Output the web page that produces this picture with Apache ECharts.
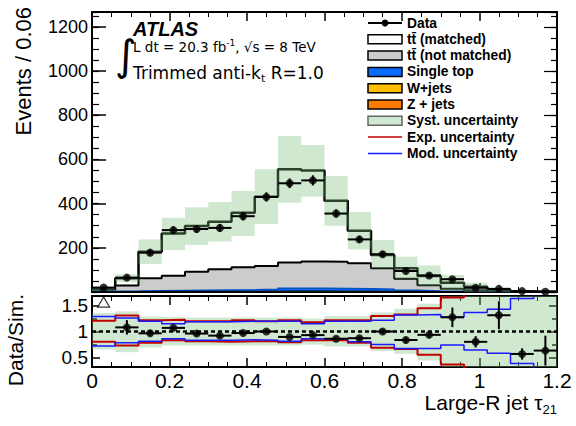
<!DOCTYPE html>
<html>
<head>
<meta charset="utf-8">
<script src="https://cdn.jsdelivr.net/npm/echarts@6/dist/echarts.min.js"></script>
<style>
  html, body { margin: 0; padding: 0; background: #fff; }
  #chart { width: 576px; height: 426px; }
</style>
</head>
<body>
<div id="chart"></div>
<script>
// bins of large-R jet tau21
const binEdges = [0, 0.06, 0.12, 0.18, 0.24, 0.3, 0.36, 0.42, 0.48, 0.54, 0.6,
  0.66, 0.72, 0.78, 0.84, 0.9, 0.96, 1.02, 1.08, 1.14, 1.2];

// main panel, events per bin
const dataEvents = [20, 65, 178, 280, 285, 290, 343, 430, 492, 505, 355, 238, 171, 95, 75, 58, 19, 14, 4, 1];
const dataErr = [5, 8, 13, 17, 17, 17, 19, 21, 22, 23, 19, 15, 13, 10, 9, 8, 4, 4, 2, 1];
const zJets = [0.5, 1, 1, 1, 1, 1, 1, 1, 1.5, 1.5, 1, 1, 1, 1, 0.5, 0.5, 0.3, 0.2, 0.1, 0.1];
const wJets = [1, 1, 2, 2, 2, 2, 2, 3, 3, 3, 3, 3, 2, 2, 1, 1, 0.5, 0.3, 0.2, 0.1];
const singleTop = [1.5, 2, 3, 4, 5, 6, 7, 8, 12, 12, 12, 11, 9, 5, 3.5, 1.5, 1.2, 0.5, 0.5, 0.2];
const ttNotMatched = [7, 25, 56, 67, 84, 94, 102, 106, 117, 121, 121, 115, 95, 52, 25, 12, 6, 4, 1.2, 0.6];
const ttMatched = [1, 33, 120, 191, 207, 215, 247, 313, 422, 412, 276, 147, 60, 48, 42, 27, 16, 4, 0.2, 0];
const systLo = [5, 45, 127, 190, 213, 228, 253, 308, 404, 431, 300, 193, 107, 60, 28, 9, 0, 0, 0, 0];
const systHi = [20, 80, 238, 336, 383, 407, 457, 555, 706, 665, 525, 362, 235, 160, 120, 77, 42, 20, 8, 3];

// ratio panel, data / simulation
const ratio = [null, 1.08, 0.965, 1.07, 0.96, 0.92, 0.97, 1.0, 0.895, 0.93, 0.86, 0.87, 1.0, 0.835, 0.935, 1.275, 0.8, 1.315, 0.565, 0.63];
const ratioErr = [0, 0.14, 0.05, 0.04, 0.04, 0.04, 0.04, 0.04, 0.03, 0.03, 0.04, 0.04, 0.05, 0.06, 0.06, 0.19, 0.11, 0.27, 0.11, 0.29];
const ratioOverflow = [[0.03, 1.57]];
const expUp = [1.21, 1.31, 1.22, 1.23, 1.2, 1.2, 1.22, 1.2, 1.22, 1.18, 1.22, 1.22, 1.3, 1.33, 1.45, 1.66, 1.9, 1.9, 1.9, 1.9];
const expDn = [0.8, 0.73, 0.78, 0.83, 0.81, 0.8, 0.81, 0.81, 0.79, 0.83, 0.83, 0.78, 0.685, 0.66, 0.55, 0.36, 0.1, 0.1, 0.1, 0.1];
const modUp = [1.29, 1.26, 1.2, 1.15, 1.19, 1.19, 1.2, 1.2, 1.2, 1.15, 1.2, 1.2, 1.22, 1.32, 1.33, 1.28, 1.37, 1.43, 1.64, 1.9];
const modDn = [0.72, 0.78, 0.81, 0.86, 0.83, 0.83, 0.84, 0.83, 0.81, 0.86, 0.86, 0.8, 0.75, 0.67, 0.67, 0.74, 0.64, 0.58, 0.38, 0.1];
const systUp = [1.36, 1.39, 1.29, 1.28, 1.27, 1.27, 1.27, 1.27, 1.27, 1.25, 1.3, 1.3, 1.37, 1.44, 1.54, 1.9, 1.9, 1.9, 1.9, 1.9];
const systDn = [0.65, 0.6, 0.69, 0.73, 0.73, 0.73, 0.73, 0.73, 0.73, 0.745, 0.71, 0.71, 0.62, 0.57, 0.44, 0.1, 0.1, 0.1, 0.1, 0.1];

// ticks / labels
const xTicks = { min: 0, max: 1.2, interval: 0.2 };
const yMainMax = 1267;
const yMainLabels = [200, 400, 600, 800, 1000, 1200];
const yMainTicks = [0, 200, 400, 600, 800, 1000, 1200];
const yRatioRange = [0.312, 1.688];
const yRatioLabels = [0.5, 1, 1.5];
const yRatioMinor = [0.75, 1.25];

const legendNames = ["Data", "tt\u0304 (matched)", "tt\u0304 (not matched)", "Single top", "W+jets",
  "Z + jets", "Syst. uncertainty", "Exp. uncertainty", "Mod. uncertainty"];

const colors = {
  gray: "#cccccc",
  single: "#0a6cff",
  wjets: "#ffbf00",
  zjets: "#ff7a00",
  band: "rgba(120,190,120,0.35)",
  bandSolid: "#d0e8d0",
  red: "#c00000",
  blue: "#1a1aff",
};
const font = "'Liberation Sans', Arial, sans-serif";
const wideFont = "'DejaVu Sans', sans-serif";

const chart = echarts.init(document.getElementById("chart"), null, { renderer: "svg" });

const stepData = (vals) => binEdges.map((e, i) => [e, vals[Math.min(i, vals.length - 1)]]);
const boxData = (lo, hi) => lo.map((v, i) => [binEdges[i], binEdges[i + 1], v, hi[i]]);
const errData = (vals, errs) =>
  vals.map((v, i) => [binEdges[i], binEdges[i + 1], v, errs[i]]).filter((d) => d[2] != null);
const pointData = (vals) =>
  vals.map((v, i) => [(binEdges[i] + binEdges[i + 1]) / 2, v]).filter((d) => d[1] != null);

// stack from the bottom: Z, W, single top, tt not matched, tt matched
const stackOrder = [zJets, wJets, singleTop, ttNotMatched, ttMatched];
const cumulative = [];
stackOrder.forEach((arr, k) => {
  cumulative.push(arr.map((v, i) => v + (k ? cumulative[k - 1][i] : 0)));
});

const boxItem = (fill) => (params, api) => {
  const a = api.coord([api.value(0), api.value(2)]);
  const b = api.coord([api.value(1), api.value(3)]);
  const cs = params.coordSys;
  const shape = echarts.graphic.clipRectByRect(
    { x: a[0], y: b[1], width: b[0] - a[0], height: a[1] - b[1] },
    { x: cs.x, y: cs.y, width: cs.width, height: cs.height }
  );
  return shape && { type: "rect", shape, style: { fill } };
};

const errItem = (params, api) => {
  const x0 = api.value(0), x1 = api.value(1), y = api.value(2), e = api.value(3);
  const l = api.coord([x0, y]), r = api.coord([x1, y]);
  const t = api.coord([(x0 + x1) / 2, y + e]), b = api.coord([(x0 + x1) / 2, y - e]);
  const st = { stroke: "#000", lineWidth: 2 };
  return {
    type: "group",
    children: [
      { type: "line", shape: { x1: l[0], y1: l[1], x2: r[0], y2: r[1] }, style: st },
      { type: "line", shape: { x1: t[0], y1: t[1], x2: b[0], y2: b[1] }, style: st },
    ],
  };
};

// filled step histogram down to zero, drawn largest first
const histSeries = (name, vals, fill, line, width, z) => ({
  name, type: "line", step: "end", data: stepData(vals),
  symbol: "none", xAxisIndex: 0, yAxisIndex: 0, z,
  lineStyle: { color: line, width }, areaStyle: { color: fill, opacity: 1, origin: "start" },
});

const ratioLine = (name, vals, color, width) => ({
  name, type: "line", step: "end", data: stepData(vals), symbol: "none",
  xAxisIndex: 2, yAxisIndex: 4, z: 4, clip: true,
  lineStyle: { color, width },
});

const xAxisBase = (gridIndex, position, showLabel, major, minor) => ({
  type: "value", gridIndex, position, min: xTicks.min, max: xTicks.max, interval: xTicks.interval,
  axisLine: { show: true, onZero: false, lineStyle: { color: "#000", width: 2 } },
  axisTick: { show: true, inside: true, length: major, lineStyle: { color: "#000", width: 1.5 } },
  minorTick: { show: true, splitNumber: 4, length: minor, lineStyle: { color: "#000", width: 1 } },
  axisLabel: { show: showLabel, color: "#000", fontSize: 21, fontFamily: font, margin: 3 },
  splitLine: { show: false },
});

const yMain = (position, step, len, labels) => ({
  type: "value", gridIndex: 0, position, min: 0, max: yMainMax, interval: step,
  axisLine: { show: true, onZero: false, lineStyle: { color: "#000", width: 2 } },
  axisTick: labels
    ? { show: true, inside: true, length: len, customValues: yMainTicks, lineStyle: { color: "#000", width: 1.5 } }
    : { show: true, inside: true, length: len, lineStyle: { color: "#000", width: 1.2 } },
  axisLabel: labels
    ? { show: true, customValues: yMainLabels, formatter: (v) => String(v), color: "#000", fontSize: 18, fontFamily: font, margin: 4 }
    : { show: false },
  splitLine: { show: false },
});

const yRatio = (position, ticks, len, labels) => ({
  type: "value", gridIndex: 1, position, min: yRatioRange[0], max: yRatioRange[1],
  axisLine: { show: true, onZero: false, lineStyle: { color: "#000", width: 2 } },
  axisTick: { show: true, inside: true, length: len, customValues: ticks, lineStyle: { color: "#000", width: 1.5 } },
  axisLabel: labels
    ? { show: true, customValues: yRatioLabels, formatter: (v) => String(v), color: "#000", fontSize: 19, fontFamily: font, margin: 4 }
    : { show: false },
  splitLine: { show: false },
});

// legend drawn as graphics, top right
const legendX = 368, legendY = 23, legendStep = 16.3;
const legendStyles = [
  { kind: "data" },
  { kind: "box", fill: "#fff", stroke: "#000" },
  { kind: "box", fill: colors.gray, stroke: "#000" },
  { kind: "box", fill: colors.single, stroke: "#000" },
  { kind: "box", fill: colors.wjets, stroke: "#000" },
  { kind: "box", fill: colors.zjets, stroke: "#000" },
  { kind: "box", fill: colors.bandSolid, stroke: "#666" },
  { kind: "line", color: colors.red },
  { kind: "line", color: colors.blue },
];
const legendGraphics = [];
legendNames.forEach((name, i) => {
  const y = legendY + i * legendStep;
  const s = legendStyles[i];
  if (s.kind === "data") {
    legendGraphics.push({ type: "line", shape: { x1: legendX, y1: y, x2: legendX + 34, y2: y }, style: { stroke: "#000", lineWidth: 2 } });
    legendGraphics.push({ type: "circle", shape: { cx: legendX + 17, cy: y, r: 3.5 }, style: { fill: "#000" } });
  } else if (s.kind === "box") {
    legendGraphics.push({ type: "rect", shape: { x: legendX, y: y - 4.5, width: 34, height: 9 }, style: { fill: s.fill, stroke: s.stroke, lineWidth: 1.5 } });
  } else {
    legendGraphics.push({ type: "line", shape: { x1: legendX, y1: y, x2: legendX + 34, y2: y }, style: { stroke: s.color, lineWidth: 1.5 } });
  }
  legendGraphics.push({
    type: "text", x: legendX + 39, y,
    style: { text: name, fill: "#000", font: "bold 13.8px " + font, verticalAlign: "middle" },
  });
});

const option = {
  animation: false,
  backgroundColor: "#fff",
  grid: [
    { left: 92, top: 12, width: 465, height: 280, outerBoundsMode: "none" },
    { left: 92, top: 296, width: 465, height: 71, outerBoundsMode: "none" },
  ],
  xAxis: [
    xAxisBase(0, "bottom", false, 9, 5),
    xAxisBase(0, "top", false, 9, 5),
    xAxisBase(1, "bottom", true, 9, 5),
    xAxisBase(1, "top", false, 9, 5),
  ],
  yAxis: [
    yMain("left", 200, 14, true),
    yMain("left", 50, 7, false),
    yMain("right", 200, 13, false),
    yMain("right", 50, 6, false),
    yRatio("left", yRatioLabels, 8, true),
    yRatio("left", yRatioMinor, 5, false),
    yRatio("right", yRatioLabels, 8, false),
    yRatio("right", yRatioMinor, 5, false),
  ],
  series: [
    histSeries("tt (matched)", cumulative[4], "#fff", "#000", 2.5, 1),
    histSeries("tt (not matched)", cumulative[3], colors.gray, "#000", 2, 2),
    histSeries("Single top", cumulative[2], colors.single, "#0050c0", 1.5, 3),
    histSeries("W+jets", cumulative[1], colors.wjets, "#000", 1, 3),
    histSeries("Z + jets", cumulative[0], colors.zjets, "#000", 1, 3),
    {
      name: "Syst. uncertainty", type: "custom", xAxisIndex: 0, yAxisIndex: 0, z: 5, silent: true,
      renderItem: boxItem(colors.band), encode: { x: [0, 1], y: [2, 3] },
      data: boxData(systLo, systHi),
    },
    {
      name: "Data errors", type: "custom", xAxisIndex: 0, yAxisIndex: 0, z: 6, silent: true,
      renderItem: errItem, encode: { x: [0, 1], y: 2 }, data: errData(dataEvents, dataErr),
    },
    {
      name: "Data", type: "scatter", xAxisIndex: 0, yAxisIndex: 0, z: 7, symbolSize: 8,
      itemStyle: { color: "#000" }, data: pointData(dataEvents),
    },
    // ratio panel
    {
      name: "Syst. band ratio", type: "custom", xAxisIndex: 2, yAxisIndex: 4, z: 2, silent: true,
      renderItem: boxItem(colors.band), encode: { x: [0, 1], y: [2, 3] },
      data: boxData(systDn, systUp),
    },
    ratioLine("Exp. up", expUp, colors.red, 2),
    ratioLine("Exp. down", expDn, colors.red, 2),
    Object.assign(ratioLine("Mod. up", modUp, colors.blue, 1.5), {
      markLine: {
        symbol: "none", silent: true, label: { show: false },
        lineStyle: { color: "#000", type: [4, 3], width: 2.5 },
        data: [{ yAxis: 1 }],
      },
    }),
    ratioLine("Mod. down", modDn, colors.blue, 1.5),
    {
      name: "Ratio errors", type: "custom", xAxisIndex: 2, yAxisIndex: 4, z: 6, silent: true,
      renderItem: errItem, encode: { x: [0, 1], y: 2 }, data: errData(ratio, ratioErr),
    },
    {
      name: "Ratio", type: "scatter", xAxisIndex: 2, yAxisIndex: 4, z: 7, symbolSize: 8,
      itemStyle: { color: "#000" }, data: pointData(ratio),
    },
    {
      name: "Ratio overflow", type: "scatter", xAxisIndex: 2, yAxisIndex: 4, z: 7,
      symbol: "triangle", symbolSize: [12, 10],
      itemStyle: { color: "#fff", borderColor: "#000", borderWidth: 1.2 },
      data: ratioOverflow,
    },
  ],
  graphic: [
    ...legendGraphics,
    { type: "text", x: 133, y: 29, style: { text: "ATLAS", fill: "#000", font: "italic bold 20px " + font, verticalAlign: "middle" } },
    { type: "text", x: 115, y: 55, style: { text: "\u222B", fill: "#000", font: "42px 'DejaVu Sans'", verticalAlign: "middle" } },
    {
      type: "text", x: 133, y: 54,
      style: {
        text: "{n|L dt = 20.3 fb}{s|-1}{n|, \u221As = 8 TeV}", verticalAlign: "bottom", fill: "#000",
        rich: {
          n: { fontSize: 13.5, fontFamily: wideFont, lineHeight: 14, verticalAlign: "bottom" },
          s: { fontSize: 9, fontFamily: wideFont, lineHeight: 9, verticalAlign: "bottom", padding: [0, 0, 7, 0] },
        },
      },
    },
    {
      type: "text", x: 133, y: 64,
      style: {
        text: "{n|Trimmed anti-k}{b|t}{n| R=1.0}", verticalAlign: "top", fill: "#000",
        rich: {
          n: { fontSize: 17, fontFamily: wideFont, lineHeight: 18, verticalAlign: "top" },
          b: { fontSize: 11, fontFamily: wideFont, lineHeight: 11, verticalAlign: "top", padding: [9, 0, 0, 0] },
        },
      },
    },
    { type: "text", x: 23, y: 7, rotation: Math.PI / 2, style: { text: "Events / 0.06", fill: "#000", font: "22px " + font, align: "right", verticalAlign: "middle" } },
    { type: "text", x: 15, y: 294, rotation: Math.PI / 2, style: { text: "Data/Sim.", fill: "#000", font: "21px " + font, align: "right", verticalAlign: "middle" } },
    {
      type: "text", x: 557, y: 392,
      style: {
        text: "{n|Large-R jet \u03C4}{b|21}", align: "right", verticalAlign: "top", fill: "#000",
        rich: {
          n: { fontSize: 21, fontFamily: font, lineHeight: 21, verticalAlign: "top" },
          b: { fontSize: 13, fontFamily: font, lineHeight: 13, verticalAlign: "top", padding: [11, 0, 0, 0] },
        },
      },
    },
  ],
};

chart.setOption(option);
</script>
</body>
</html>
